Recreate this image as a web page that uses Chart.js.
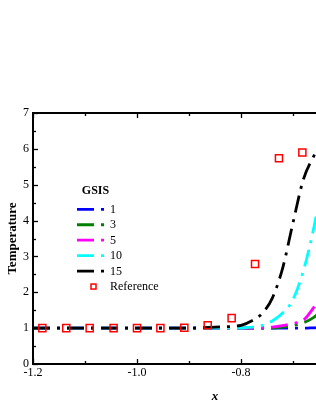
<!DOCTYPE html>
<html>
<head>
<meta charset="utf-8">
<script src="https://cdn.jsdelivr.net/npm/chart.js@4/dist/chart.umd.min.js"></script>
<style>
  html, body { margin: 0; padding: 0; background: #fff; overflow: hidden; }
  #wrap { position: relative; width: 420px; height: 409px; }
</style>
</head>
<body>
<div id="wrap"><canvas id="c"></canvas></div>
<script>
// ---- data ----
const curveX = [-1.2, -1.1, -1.0, -0.9, -0.85, -0.8, -0.78, -0.76, -0.74, -0.72, -0.70, -0.68, -0.66, -0.64];
const gsis1  = [1, 1, 1, 1, 1, 1, 1, 1, 1, 1, 1, 1, 1.01, 1.02];
const gsis3  = [1, 1, 1, 1, 1, 1, 1, 1, 1, 1.03, 1.07, 1.15, 1.3, 1.55];
const gsis5  = [1, 1, 1, 1, 1, 1, 1, 1.01, 1.03, 1.07, 1.13, 1.22, 1.58, 2.05];
const gsis10 = [1, 1, 1, 1, 1, 1, 1.03, 1.07, 1.2, 1.42, 1.8, 2.6, 3.8, 5.3];
const gsis15 = [1, 1, 1, 1, 1.03, 1.08, 1.2, 1.4, 1.83, 2.67, 3.94, 5.15, 5.8, 6.3];
const refX = [-1.182, -1.136, -1.091, -1.045, -1.0, -0.955, -0.909, -0.864, -0.818, -0.773, -0.727, -0.682];
const refY = [1, 1, 1, 1, 1, 1, 1.01, 1.08, 1.28, 2.79, 5.74, 5.90];
const seriesLabels = ['1', '3', '5', '10', '15', 'Reference'];
const legendTitle = 'GSIS';
const xTitle = 'x';
const yTitle = 'Temperature';
const xMin = -1.2, xMax = -0.5, yMin = 0, yMax = 7;

const pts = (xs, ys) => xs.map((x, i) => ({x: x, y: ys[i]}));
const DASH = [17, 7, 3, 7];
const lineDs = (label, ys, color, order) => ({
  label, data: pts(curveX, ys), borderColor: color, backgroundColor: color,
  borderWidth: 2.8, borderDash: DASH, pointRadius: 0, fill: false,
  cubicInterpolationMode: 'monotone', order
});

const datasets = [
  lineDs(seriesLabels[0], gsis1, '#0000ff', 5),
  lineDs(seriesLabels[1], gsis3, '#008000', 4),
  lineDs(seriesLabels[2], gsis5, '#ff00ff', 3),
  lineDs(seriesLabels[3], gsis10, '#00ffff', 2),
  lineDs(seriesLabels[4], gsis15, '#000000', 1),
  {
    label: seriesLabels[5], data: pts(refX, refY), showLine: false,
    pointStyle: 'rect', pointRadius: 5, pointBorderWidth: 1.5,
    pointBorderColor: '#ff0000', pointBackgroundColor: 'rgba(0,0,0,0)',
    borderColor: '#ff0000', backgroundColor: 'rgba(0,0,0,0)', order: 0
  }
];

const SERIF = '"Liberation Serif", "Times New Roman", serif';

// frame, inward ticks and in-plot legend
const framePlugin = {
  id: 'frame',
  afterDraw(chart) {
    const {ctx, chartArea: a, scales: {x, y}} = chart;
    ctx.save();
    ctx.strokeStyle = '#000';
    ctx.lineWidth = 1.3;
    // x ticks (bottom and top, inward)
    for (let k = 0; k <= 7; k++) {
      const v = xMin + k * 0.1;
      const px = Math.round(x.getPixelForValue(v)) + 0.5;
      const len = (k % 2 === 0) ? 5 : 3;
      ctx.beginPath();
      ctx.moveTo(px, a.bottom); ctx.lineTo(px, a.bottom - len);
      ctx.moveTo(px, a.top); ctx.lineTo(px, a.top + len);
      ctx.stroke();
    }
    // y ticks (left, inward)
    for (let k = 0; k <= 14; k++) {
      const v = yMin + k * 0.5;
      const py = Math.round(y.getPixelForValue(v)) + 0.5;
      const len = (k % 2 === 0) ? 5 : 3;
      ctx.beginPath();
      ctx.moveTo(a.left, py); ctx.lineTo(a.left + len, py);
      ctx.stroke();
    }
    // frame lines
    ctx.lineWidth = 2;
    ctx.beginPath();
    ctx.moveTo(a.left, a.top); ctx.lineTo(a.left, a.bottom);
    ctx.moveTo(a.left - 1, a.bottom); ctx.lineTo(a.right, a.bottom);
    ctx.moveTo(a.left - 1, a.top); ctx.lineTo(a.right, a.top);
    ctx.stroke();

    // legend
    const lx = a.left, ly = a.top;
    ctx.fillStyle = '#000';
    ctx.font = 'bold 12px ' + SERIF;
    ctx.textAlign = 'center';
    ctx.textBaseline = 'middle';
    ctx.fillText(legendTitle, lx + 62.5, ly + 78);
    ctx.font = '12px ' + SERIF;
    ctx.textAlign = 'left';
    chart.data.datasets.forEach((ds, i) => {
      const ry = ly + 96.3 + i * 15.45;
      if (ds.showLine === false) {
        ctx.setLineDash([]);
        ctx.lineWidth = 1.5;
        ctx.strokeStyle = ds.pointBorderColor;
        ctx.strokeRect(lx + 58, ry - 2.5, 5, 5);
      } else {
        ctx.setLineDash(DASH);
        ctx.lineWidth = ds.borderWidth;
        ctx.strokeStyle = ds.borderColor;
        ctx.beginPath();
        ctx.moveTo(lx + 44, ry); ctx.lineTo(lx + 71, ry);
        ctx.stroke();
      }
      ctx.setLineDash([]);
      ctx.fillStyle = '#000';
      ctx.fillText(ds.label, lx + 77, ry + 0.5);
    });
    ctx.restore();
  }
};

new Chart(document.getElementById('c'), {
  type: 'line',
  data: { datasets },
  plugins: [framePlugin],
  options: {
    responsive: true,
    maintainAspectRatio: false,
    animation: false,
    events: [],
    layout: { padding: { top: 113, right: 23, bottom: 0, left: 0 } },
    plugins: { legend: { display: false }, tooltip: { enabled: false } },
    scales: {
      x: {
        type: 'linear', min: xMin, max: xMax,
        grid: { display: false, drawTicks: false },
        border: { display: false },
        ticks: {
          stepSize: 0.1, autoSkip: false, maxRotation: 0, padding: 2,
          color: '#000', font: { family: SERIF, size: 12 },
          callback: (v) => (Math.round(v * 10) % 2 === 0) ? v.toFixed(1) : ''
        },
        title: {
          display: true, text: xTitle, color: '#000',
          font: { family: SERIF, size: 13, weight: 'bold', style: 'italic' },
          padding: { top: 0, bottom: 5 }
        },
        afterFit: (s) => { s.height = 45; }
      },
      y: {
        type: 'linear', min: yMin, max: yMax,
        grid: { display: false, drawTicks: false },
        border: { display: false },
        ticks: {
          stepSize: 1, padding: 4, color: '#000',
          font: { family: SERIF, size: 12 }
        },
        title: {
          display: true, text: yTitle, color: '#000',
          font: { family: SERIF, size: 13, weight: 'bold' },
          padding: { top: 5, bottom: 0 }
        },
        afterFit: (s) => { s.width = 33; }
      }
    }
  }
});
</script>
</body>
</html>
